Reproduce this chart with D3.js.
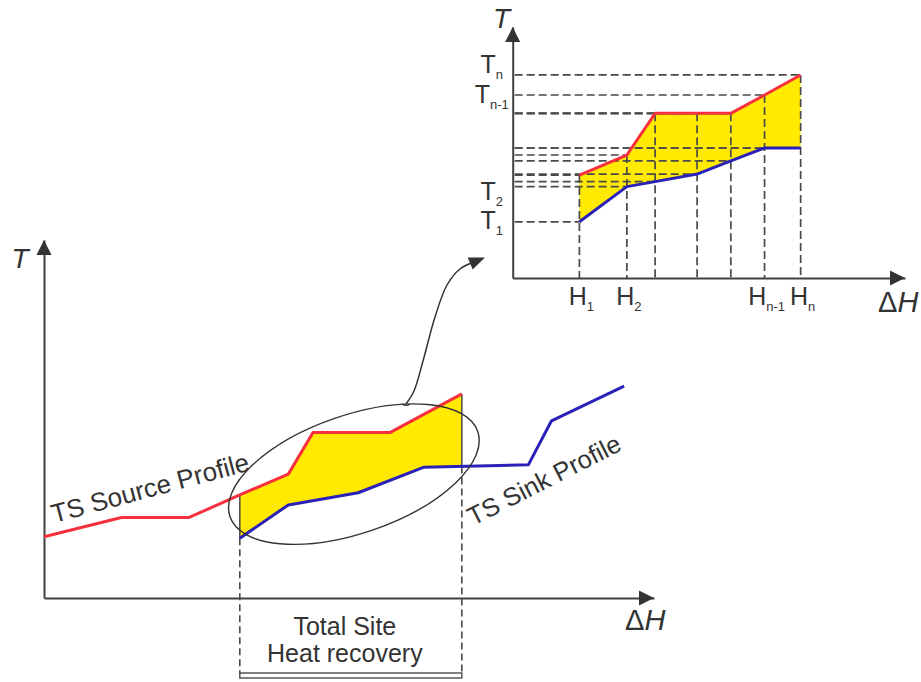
<!DOCTYPE html>
<html>
<head>
<meta charset="utf-8">
<script src="https://cdn.jsdelivr.net/npm/d3@7/dist/d3.min.js"></script>
<style>
  body { margin: 0; background: #fff; }
  svg { display: block; }
  text { font-family: "Liberation Sans", Arial, sans-serif; fill: #333; }
</style>
</head>
<body>
<svg id="chart" width="921" height="682"></svg>
<script>
// ---- Total Site profiles (relative units, 0–100 along each axis) ----
const sourceH = [0, 12.7, 23.8, 32.1, 40.05, 44.1, 56.7, 68.5];
const sourceT = [17.1, 22.5, 22.5, 28.8, 34.6, 46.2, 46.2, 57.0];
const sinkH   = [32.1, 40.05, 51.5, 62.2, 79.4, 83.2, 95.1];
const sinkT   = [16.7, 26.0, 29.4, 36.5, 37.2, 49.5, 59.2];
const recoveryRange = [32.1, 68.5];

// ---- Detail of the heat recovery pocket ----
const stepH       = [17.0, 29.1, 36.3, 47.0, 55.6, 64.2, 73.4];
const stepSourceT = [41.0, 49.0, 65.6, 65.6, 65.6, 72.9, 80.9];
const stepSinkT   = [22.4, 36.4, 38.4, 41.4, 46.7, 51.8, 51.8];

// tick labels of the detail plot
const hTickIndex = [0, 1, 5, 6];
const hTickSubs  = ["1", "2", "n-1", "n"];
const tTickValues = [85.3, 73.3, 34.7, 23.3];
const tTickSubs   = ["n", "n-1", "2", "1"];

const labels = {
  source: "TS Source Profile",
  sink: "TS Sink Profile",
  recovery: ["Total Site", "Heat recovery"]
};

const RED = "#f8303e", BLUE = "#2a22b8", YELLOW = "#ffea00", INK = "#404040", DASH = "#4a4a4a";

const svg = d3.select("#chart");

// scales
const xMain = d3.scaleLinear().domain([0, 100]).range([44, 654]);
const yMain = d3.scaleLinear().domain([0, 100]).range([598, 240]);
const xIn = d3.scaleLinear().domain([0, 100]).range([512.7, 905]);
const yIn = d3.scaleLinear().domain([0, 100]).range([278, 27]);

const zip = (xs, ys) => xs.map((x, i) => [x, ys[i]]);
const line = (sx, sy) => d3.line().x(d => sx(d[0])).y(d => sy(d[1]));

// arrowhead drawn at the end of an axis
function arrowHead(g, x, y, dir, len = 15, half = 7.5) {
  let pts;
  if (dir === "right") pts = [[x, y], [x - len, y - half], [x - len, y + half]];
  else pts = [[x, y], [x - half, y + len], [x + half, y + len]];
  g.append("path").attr("d", d3.line()(pts) + "Z").attr("fill", "#333");
}

function drawAxes(g, sx, sy) {
  const xa = d3.axisBottom(sx).tickValues([]).tickSizeOuter(0);
  const ya = d3.axisLeft(sy).tickValues([]).tickSizeOuter(0);
  g.append("g").attr("transform", `translate(0,${sy(0)})`).call(xa)
    .select(".domain").attr("stroke", INK).attr("stroke-width", 2);
  g.append("g").attr("transform", `translate(${sx(0)},0)`).call(ya)
    .select(".domain").attr("stroke", INK).attr("stroke-width", 2);
  arrowHead(g, sx(100), sy(0), "right");
  arrowHead(g, sx(0), sy(100), "up");
}

function axisTitles(g, tPos, hPos, size) {
  g.append("text").attr("x", tPos[0]).attr("y", tPos[1])
    .attr("text-anchor", "middle").attr("font-size", size).attr("font-style", "italic").text("T");
  const h = g.append("text").attr("x", hPos[0]).attr("y", hPos[1]).attr("font-size", size + 1);
  h.append("tspan").text("Δ");
  h.append("tspan").attr("font-style", "italic").text("H");
}

// ================= main Total Site profile plot =================
const main = svg.append("g");
drawAxes(main, xMain, yMain);
axisTitles(main, [20, 268], [625, 630], 28);

const src = zip(sourceH, sourceT);
const snk = zip(sinkH, sinkT);

// recovery pocket between the two profiles
svg.append("clipPath").attr("id", "recClip").append("rect")
  .attr("x", xMain(recoveryRange[0])).attr("y", 0)
  .attr("width", xMain(recoveryRange[1]) - xMain(recoveryRange[0])).attr("height", 682);
main.append("path")
  .attr("d", line(xMain, yMain)(src.concat(snk.slice().reverse())) + "Z")
  .attr("fill", YELLOW).attr("stroke", "none").attr("clip-path", "url(#recClip)");

// recovery boundaries
const srcAt = h => { const i = d3.bisectLeft(sourceH, h); if (sourceH[i] === h) return sourceT[i];
  return sourceT[i - 1] + (sourceT[i] - sourceT[i - 1]) * (h - sourceH[i - 1]) / (sourceH[i] - sourceH[i - 1]); };
const snkAt = h => { const i = d3.bisectLeft(sinkH, h); if (sinkH[i] === h) return sinkT[i];
  return sinkT[i - 1] + (sinkT[i] - sinkT[i - 1]) * (h - sinkH[i - 1]) / (sinkH[i] - sinkH[i - 1]); };
const bracketTop = 673, bracketBottom = 678;
recoveryRange.forEach(h => {
  const x = xMain(h);
  const top = yMain(srcAt(h)), bot = yMain(snkAt(h));
  main.append("line").attr("x1", x).attr("x2", x).attr("y1", top).attr("y2", bot)
    .attr("stroke", DASH).attr("stroke-width", 1.5);
  main.append("line").attr("x1", x).attr("x2", x).attr("y1", bot).attr("y2", bracketTop)
    .attr("stroke", DASH).attr("stroke-width", 1.6).attr("stroke-dasharray", "7,4");
});
main.append("rect")
  .attr("x", xMain(recoveryRange[0])).attr("y", bracketTop)
  .attr("width", xMain(recoveryRange[1]) - xMain(recoveryRange[0]))
  .attr("height", bracketBottom - bracketTop)
  .attr("fill", "#fff").attr("stroke", DASH).attr("stroke-width", 1.4);

// profiles
main.append("path").attr("d", line(xMain, yMain)(src)).attr("fill", "none")
  .attr("stroke", RED).attr("stroke-width", 3).attr("stroke-linejoin", "round");
main.append("path").attr("d", line(xMain, yMain)(snk)).attr("fill", "none")
  .attr("stroke", BLUE).attr("stroke-width", 3).attr("stroke-linejoin", "round");

// ellipse marking the pocket
const ell = { h: 50.8, t: 34.6, rx: 131, ry: 59, rot: -19 };
main.append("ellipse")
  .attr("transform", `translate(${xMain(ell.h)},${yMain(ell.t)}) rotate(${ell.rot})`)
  .attr("rx", ell.rx).attr("ry", ell.ry)
  .attr("fill", "none").attr("stroke", "#333").attr("stroke-width", 1.4);

// curved pointer to the detail plot
const pointer = [[406, 404], [414, 391], [423, 361], [435, 317], [447, 285], [460, 269], [474, 262]];
main.append("path").attr("d", d3.line().curve(d3.curveCatmullRom)(pointer))
  .attr("fill", "none").attr("stroke", "#333").attr("stroke-width", 1.5);
main.append("path").attr("d", "M402,404 q4,3 8,0").attr("fill", "none").attr("stroke", "#333").attr("stroke-width", 1.2);
{
  const tip = [485, 257.5], from = pointer[pointer.length - 1];
  const a = Math.atan2(tip[1] - from[1], tip[0] - from[0]);
  const L = 16, W = 6.5;
  const bx = tip[0] - L * Math.cos(a), by = tip[1] - L * Math.sin(a);
  const pts = [tip, [bx + W * Math.sin(a), by - W * Math.cos(a)], [bx - W * Math.sin(a), by + W * Math.cos(a)]];
  main.append("path").attr("d", d3.line()(pts) + "Z").attr("fill", "#333");
}

// profile labels
main.append("text").attr("transform", `translate(54,523) rotate(-15)`)
  .attr("font-size", 26).text(labels.source);
main.append("text").attr("transform", `translate(473,526) rotate(-27)`)
  .attr("font-size", 25.5).text(labels.sink);
const midX = (xMain(recoveryRange[0]) + xMain(recoveryRange[1])) / 2 - 6;
labels.recovery.forEach((s, i) => {
  main.append("text").attr("x", midX).attr("y", 635 + i * 27)
    .attr("text-anchor", "middle").attr("font-size", 25).text(s);
});

// ================= detail plot =================
const det = svg.append("g");

const sSrc = zip(stepH, stepSourceT);
const sSnk = zip(stepH, stepSinkT);
det.append("path")
  .attr("d", line(xIn, yIn)(sSrc.concat(sSnk.slice().reverse())) + "Z")
  .attr("fill", YELLOW);

// guide lines to every temperature level and enthalpy interval boundary
const levels = sSrc.concat(sSnk);
levels.forEach(([h, t]) => {
  det.append("line").attr("x1", xIn(0) + 2).attr("x2", xIn(h))
    .attr("y1", yIn(t)).attr("y2", yIn(t))
    .attr("stroke", DASH).attr("stroke-width", 1.7).attr("stroke-dasharray", "8,4");
});
sSrc.forEach(([h, t]) => {
  det.append("line").attr("x1", xIn(h)).attr("x2", xIn(h))
    .attr("y1", yIn(t)).attr("y2", yIn(0))
    .attr("stroke", DASH).attr("stroke-width", 1.7).attr("stroke-dasharray", "8,4");
});

det.append("path").attr("d", line(xIn, yIn)(sSrc)).attr("fill", "none")
  .attr("stroke", RED).attr("stroke-width", 3).attr("stroke-linejoin", "round");
det.append("path").attr("d", line(xIn, yIn)(sSnk)).attr("fill", "none")
  .attr("stroke", BLUE).attr("stroke-width", 3).attr("stroke-linejoin", "round");

drawAxes(det, xIn, yIn);
axisTitles(det, [501.5, 28], [878, 312], 28);

// T tick labels
tTickValues.forEach((v, i) => {
  const t = det.append("text").attr("x", xIn(0) - 21).attr("y", yIn(v) + 9)
    .attr("text-anchor", "middle").attr("font-size", 25);
  t.append("tspan").text("T");
  t.append("tspan").attr("font-size", 13).attr("dy", 6).text(tTickSubs[i]);
});
// H tick labels
hTickIndex.forEach((k, i) => {
  const t = det.append("text").attr("x", xIn(stepH[k]) + 2).attr("y", 305)
    .attr("text-anchor", "middle").attr("font-size", 25);
  t.append("tspan").text("H");
  t.append("tspan").attr("font-size", 13).attr("dy", 6).text(hTickSubs[i]);
});
</script>
</body>
</html>
